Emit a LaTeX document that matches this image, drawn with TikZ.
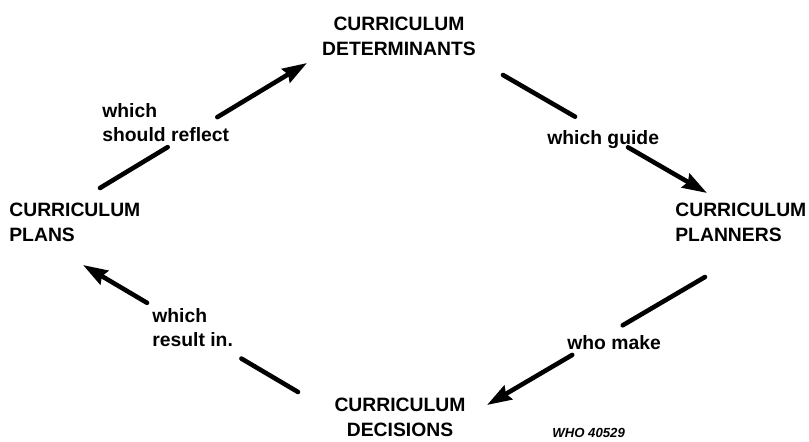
\documentclass[tikz,border=0pt]{standalone}
\usepackage{fontspec}
\setmainfont{Liberation Sans}
\usepackage{tikz}
\usetikzlibrary{arrows.meta}

\begin{document}
\begin{tikzpicture}[x=0.02cm, y=-0.02cm, >={Stealth[length=14pt,width=9pt,inset=1.5pt]},
    term/.style={inner sep=0pt, font=\bfseries\fontsize{11}{14.2}\selectfont},
    lbl/.style={inner sep=0pt, align=left, font=\bfseries\fontsize{11}{14}\selectfont},
    link/.style={->, line width=2.6pt, line cap=round}]
    \useasboundingbox (0,0) rectangle (809,442);

    % Nodes {det, plan, dec, pl}
    \node [term, align=center, anchor=north]      (det)  at (399,17)  {CURRICULUM\\DETERMINANTS};
    \node [term, align=left, anchor=north west]   (plan) at (675,203) {CURRICULUM\\PLANNERS};
    \node [term, align=center, anchor=north]      (dec)  at (400,398) {CURRICULUM\\DECISIONS};
    \node [term, align=left, anchor=north west]   (pl)   at (9,203)   {CURRICULUM\\PLANS};

    % Labels
    \node [lbl, anchor=north west] (reflect) at (102,103) {which\\should reflect};
    \node [lbl, anchor=north west] (guide)   at (547,130) {which guide};
    \node [lbl, anchor=north west] (make)    at (567,335) {who make};
    \node [lbl, anchor=north west] (result)  at (152,308) {which\\result in.};
    \node [inner sep=0pt, anchor=north west, font=\bfseries\itshape\fontsize{7.5}{8}\selectfont] (code) at (552,428) {WHO 40529};

    % Paths
    \draw [link, dash pattern=on 45pt off 33pt on 300pt]
        ([shift={(91,-15)}]pl.north west) -- ([shift={(-92,46)}]det.north);
    \draw [link, dash pattern=on 47.4pt off 34.8pt on 300pt]
        ([shift={(104,58)}]det.north) -- ([shift={(32,-10)}]plan.north west);
    \draw [link, dash pattern=on 54.3pt off 33.3pt on 300pt]
        ([shift={(30,74)}]plan.north west) -- ([shift={(87,7)}]dec.north);
    \draw [link, dash pattern=on 37.4pt off 62.4pt on 300pt]
        ([shift={(-102,-6)}]dec.north) -- ([shift={(74,62)}]pl.north west);

\end{tikzpicture}
\end{document}
